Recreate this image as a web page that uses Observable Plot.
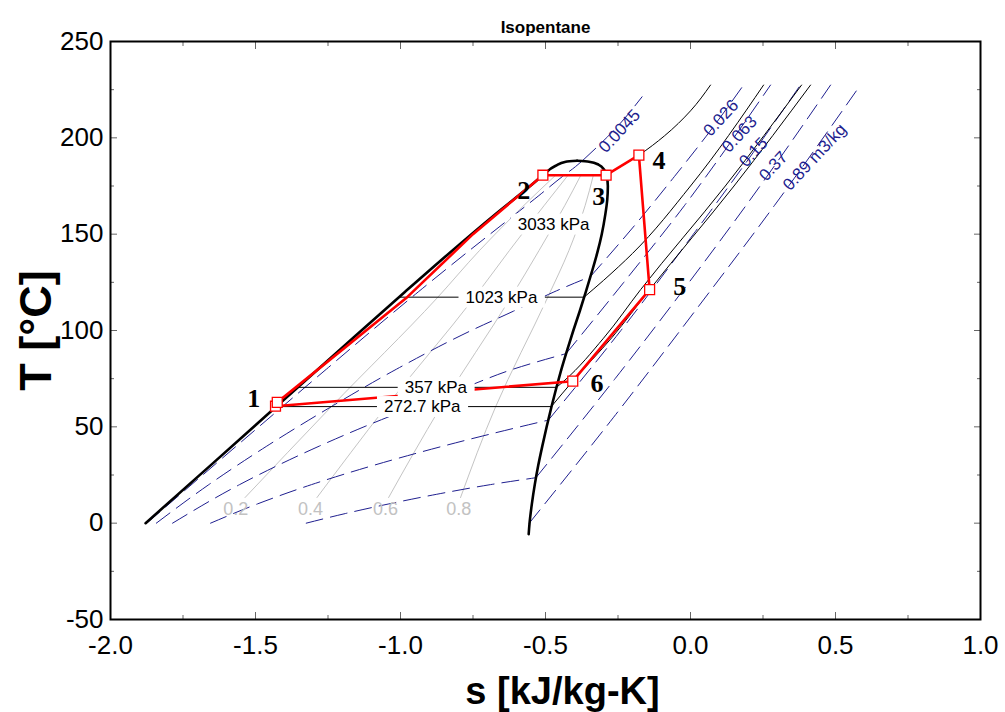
<!DOCTYPE html>
<html><head><meta charset="utf-8">
<script src="https://cdn.jsdelivr.net/npm/d3@7"></script>
<script src="https://cdn.jsdelivr.net/npm/@observablehq/plot@0.6"></script>
<style>
body{margin:0;background:#fff}
#chart svg{font-family:"Liberation Sans",Arial,sans-serif;overflow:visible}
</style>
</head><body><div id="chart"></div>
<script>
// ---------- data ----------
const chartTitle = "Isopentane";
const xLabel = "s [kJ/kg-K]";
const yLabel = "T [°C]";
const xTicks = [-2.0, -1.5, -1.0, -0.5, 0.0, 0.5, 1.0];
const xMinorTicks = [-1.75, -1.25, -0.75, -0.25, 0.25, 0.75];
const yTicks = [-50, 0, 50, 100, 150, 200, 250];
const yMinorTicks = [-25, 25, 75, 125, 175, 225];

// saturation dome [s, T]
const liquidLine = [[-1.879,0],[-1.655,30],[-1.432,60],[-1.209,90],[-0.985,120],[-0.833,140],[-0.676,160],[-0.553,175],[-0.509,180.6],[-0.465,185.5],[-0.43,187.6],[-0.391,188.1]];
const vaporLine = [[-0.558,-5.7],[-0.555,0],[-0.547,10],[-0.537,20],[-0.525,30],[-0.511,40],[-0.496,50],[-0.480,60],[-0.463,70],[-0.445,80],[-0.425,90],[-0.404,100],[-0.382,110],[-0.361,120],[-0.341,130],[-0.322,140],[-0.306,150],[-0.294,160],[-0.287,168],[-0.285,175],[-0.289,180],[-0.298,183.5],[-0.316,186],[-0.35,187.6],[-0.391,188.1]];

// quality lines
const qualityNames = ["0.2","0.4","0.6","0.8"];
const quality02 = [[-1.536,13.3],[-1.239,60.4],[-0.873,117],[-0.727,141.6],[-0.574,165],[-0.465,180.6]];
const quality04 = [[-1.288,13.3],[-1.050,60.4],[-0.746,117],[-0.624,141.6],[-0.504,165],[-0.422,180.6]];
const quality06 = [[-1.041,13.3],[-0.861,60.4],[-0.620,117],[-0.522,141.6],[-0.433,165],[-0.378,180.6]];
const quality08 = [[-0.793,13.3],[-0.672,60.4],[-0.493,117],[-0.419,141.6],[-0.363,165],[-0.335,180.6]];
const qualityLabelPos = [[-1.568,7.3],[-1.310,7.3],[-1.052,7.3],[-0.799,7.3]];

// isochores (m3/kg): wet (two-phase) part and dry (superheated) part
const isochoreNames = ["0.0045","0.026","0.063","0.15","0.37","0.89 m3/kg"];
const iso0045Wet = [[-1.875,0],[-1.566,40],[-1.255,80],[-0.939,120],[-0.775,140],[-0.607,160],[-0.523,170],[-0.441,180],[-0.397,185],[-0.37,188.5]];
const iso0045Dry = [[-0.37,188.5],[-0.253,205.7],[-0.167,221.3]];
const iso026Wet = [[-1.842,0],[-1.661,20],[-1.461,40],[-1.244,60],[-1.013,80],[-0.756,100],[-0.611,110],[-0.471,120],[-0.345,128]];
const iso026Dry = [[-0.345,128],[-0.19,155],[-0.055,180],[0.065,203],[0.183,227.4]];
const iso063Wet = [[-1.786,0],[-1.555,20],[-1.280,40],[-1.126,50],[-0.960,60],[-0.785,70],[-0.61,80],[-0.429,88]];
const iso063Dry = [[-0.429,88],[-0.23,125],[-0.02,165],[0.135,197],[0.276,227.4]];
const iso15Wet = [[-1.655,0],[-1.493,10],[-1.307,20],[-1.093,30],[-0.853,40],[-0.588,50],[-0.490,53.5]];
const iso15Dry = [[-0.490,53.5],[-0.24,100],[0.01,150],[0.205,190],[0.379,227.4]];
const iso37Wet = [[-1.325,0],[-1.19,5],[-1.04,10],[-0.875,15],[-0.69,20],[-0.533,23.6]];
const iso37Dry = [[-0.533,23.6],[-0.26,75],[-0.005,125],[0.24,175],[0.483,227.4]];
const iso89Dry = [[-0.556,0],[-0.265,55],[0.015,110],[0.29,165],[0.586,227.4]];
const isochoreLabelPos = [[-0.245,203.5],[0.105,210.3],[0.169,201.9],[0.217,192.6],[0.286,185.3],[0.428,190]];

// isobars: horizontal part inside the dome, and superheated part
const isobarNames = ["3033 kPa","1023 kPa","357 kPa","272.7 kPa"];
const p1023Wet = [[-1.002,117.3],[-0.367,117.3]];
const p357Wet = [[-1.354,70.5],[-0.462,70.5]];
const p2727Wet = [[-1.431,60.5],[-0.480,60.5]];
const p3033Dry = [[-0.291,180.6],[-0.235,185.6],[-0.178,191.0],[-0.09,201],[0.0,214],[0.069,227.4]];
const p1023Dry = [[-0.367,117.3],[-0.30,126],[-0.20,140],[0.0,175],[0.252,227.4]];
const p357Dry = [[-0.462,70.5],[-0.437,73.7],[-0.30,96],[-0.172,121.2],[0.12,175],[0.383,227.4]];
const p2727Dry = [[-0.480,60.5],[-0.406,73.7],[-0.27,96.5],[-0.141,121.2],[0.15,175],[0.414,227.4]];
const isobarLabelPos = [[-0.472,155.2],[-0.652,117.3],[-0.878,70.5],[-0.925,60.5]];

// cycle
const cyclePath = [[-1.431,60.7],[-1.425,62.7],[-0.977,117.3],[-0.75,150],[-0.509,180.6],[-0.291,180.6],[-0.178,191.0],[-0.141,121.2],[-0.406,73.7],[-1.431,60.7]];
const statePoints = [[-1.431,60.7],[-1.425,62.7],[-0.509,180.6],[-0.291,180.6],[-0.178,191.0],[-0.141,121.2],[-0.406,73.7]];
const stateNames = ["1","2","3","4","5","6"];
const stateLabelPos = [[-1.506,64.5],[-0.575,172.8],[-0.316,169.3],[-0.109,188.4],[-0.037,122.9],[-0.322,72.3]];

// ---------- tables ----------
const rows = (names, arrs) => arrs.flatMap((a, i) => a.map(p => ({name: names[i], s: p[0], t: p[1]})));
const labelRows = (names, pos) => pos.map((p, i) => ({text: names[i], s: p[0], t: p[1]}));
const qualityRows = rows(qualityNames, [quality02, quality04, quality06, quality08]);
const isoWetRows = rows(isochoreNames, [iso0045Wet, iso026Wet, iso063Wet, iso15Wet, iso37Wet]);
const isoDryRows = rows(isochoreNames, [iso0045Dry, iso026Dry, iso063Dry, iso15Dry, iso37Dry, iso89Dry]);
const barWetRows = rows(["1023 kPa","357 kPa","272.7 kPa"], [p1023Wet, p357Wet, p2727Wet]);
const barDryRows = rows(isobarNames, [p3033Dry, p1023Dry, p357Dry, p2727Dry]);
const domeRows = rows(["liquid","vapor"], [liquidLine, vaporLine]);
const cycleRows = cyclePath.map(p => ({s: p[0], t: p[1]}));
const stateRows = statePoints.map(p => ({s: p[0], t: p[1]}));

const navy = "#1f1f8f";
const chart = Plot.plot({
  width: 1005, height: 712,
  marginLeft: 110, marginRight: 25, marginTop: 41, marginBottom: 93,
  x: {domain: [-2, 1]},
  y: {domain: [-50, 250]},
  style: {background: "white", fontFamily: "Liberation Sans, Arial, sans-serif"},
  marks: [
    Plot.line(qualityRows, {x: "s", y: "t", z: "name", stroke: "#c4c4c4", strokeWidth: 1, curve: "monotone-y"}),
    Plot.line(isoWetRows, {x: "s", y: "t", z: "name", stroke: navy, strokeWidth: 1, strokeDasharray: "17,8", curve: "monotone-y"}),
    Plot.line(isoDryRows, {x: "s", y: "t", z: "name", stroke: navy, strokeWidth: 1, strokeDasharray: "17,8", curve: "monotone-y"}),
    Plot.line(barWetRows, {x: "s", y: "t", z: "name", stroke: "black", strokeWidth: 1}),
    Plot.line(barDryRows, {x: "s", y: "t", z: "name", stroke: "black", strokeWidth: 1, curve: "monotone-y"}),
    Plot.line(domeRows, {x: "s", y: "t", z: "name", stroke: "black", strokeWidth: 2.6, curve: "monotone-y"}),
    Plot.line(cycleRows, {x: "s", y: "t", stroke: "#ff0000", strokeWidth: 2.6}),
    Plot.dot(stateRows, {x: "s", y: "t", symbol: "square", r: 5.6, fill: "white", stroke: "#ff0000", strokeWidth: 1.3}),
    Plot.text(labelRows(qualityNames, qualityLabelPos), {x: "s", y: "t", text: "text", fill: "#c2c2c2", fontSize: 18}),
    Plot.text(labelRows(isochoreNames, isochoreLabelPos), {x: "s", y: "t", text: "text", fill: navy, fontSize: 17, rotate: -47}),
    Plot.text(labelRows(stateNames, stateLabelPos), {x: "s", y: "t", text: "text", fill: "black", fontSize: 26, fontWeight: "bold", fontFamily: "Liberation Serif, Times New Roman, serif"}),
    Plot.text(labelRows(isobarNames, isobarLabelPos), {x: "s", y: "t", text: "text", fill: "black", fontSize: 17}),
    // axes: inward ticks on all four sides
    Plot.axisX({ticks: xTicks, anchor: "bottom", tickSize: -7, stroke: "#666", fill: "none", label: null}),
    Plot.axisX({ticks: xMinorTicks, anchor: "bottom", tickSize: -4, stroke: "#666", fill: "none", label: null}),
    Plot.axisX({ticks: xTicks, anchor: "top", tickSize: -7, stroke: "#666", fill: "none", label: null}),
    Plot.axisX({ticks: xMinorTicks, anchor: "top", tickSize: -4, stroke: "#666", fill: "none", label: null}),
    Plot.axisY({ticks: yTicks, anchor: "left", tickSize: -7, stroke: "#666", fill: "none", label: null}),
    Plot.axisY({ticks: yMinorTicks, anchor: "left", tickSize: -4, stroke: "#666", fill: "none", label: null}),
    Plot.axisY({ticks: yTicks, anchor: "right", tickSize: -7, stroke: "#666", fill: "none", label: null}),
    Plot.axisY({ticks: yMinorTicks, anchor: "right", tickSize: -4, stroke: "#666", fill: "none", label: null}),
    Plot.axisX({ticks: xTicks, anchor: "bottom", tickSize: 0, tickPadding: 16, fontSize: 26, fill: "black", tickFormat: d => d.toFixed(1), label: null}),
    Plot.axisY({ticks: yTicks, anchor: "left", tickSize: 0, tickPadding: 7, fontSize: 26, fill: "black", tickFormat: d => String(d), label: null}),
    Plot.frame({stroke: "black", strokeWidth: 2}),
    Plot.text([chartTitle], {frameAnchor: "top", dy: -21, text: d => d, fontSize: 17, fontWeight: "bold", fill: "black"}),
    Plot.text([yLabel], {frameAnchor: "left", dx: -74, rotate: -90, textAnchor: "middle", text: d => d, fontSize: 45, fontWeight: "bold", fill: "black"}),
    Plot.text([xLabel], {frameAnchor: "bottom", dx: 17, dy: 72, lineAnchor: "middle", text: d => d, fontSize: 38, fontWeight: "bold", fill: "black"})
  ]
});
document.getElementById("chart").append(chart);

// white boxes behind the pressure labels (as in the original)
for (const t of chart.querySelectorAll("text")) {
  if (!isobarNames.includes(t.textContent)) continue;
  const b = t.getBBox();
  const r = document.createElementNS("http://www.w3.org/2000/svg", "rect");
  r.setAttribute("x", b.x - 7);
  r.setAttribute("y", b.y - 1);
  r.setAttribute("width", b.width + 14);
  r.setAttribute("height", b.height + 2);
  r.setAttribute("fill", "white");
  if (t.getAttribute("transform")) r.setAttribute("transform", t.getAttribute("transform"));
  t.parentNode.insertBefore(r, t);
}
</script>
</body></html>
